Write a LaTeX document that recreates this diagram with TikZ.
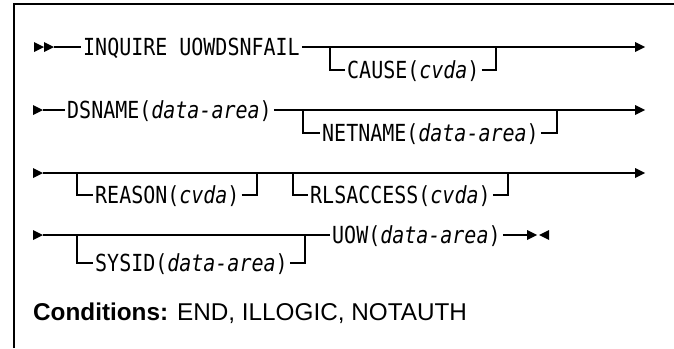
\documentclass[tikz,border=0pt]{standalone}
\usepackage{fontspec}
\setmainfont{Liberation Sans}
\newfontfamily\synfont[FakeStretch=0.85]{DejaVu Sans Mono}

\tikzset{
  syn/.style={anchor=west, inner xsep=2pt, inner ysep=0pt,
    text height=17pt, text depth=0pt,
    font=\synfont\fontsize{23.5pt}{26pt}\selectfont},
  rail/.style={line width=1.2pt},
  pics/rtri/.style={code={\fill (0,-5) -- (10,0) -- (0,5) -- cycle;}},
  pics/ltri/.style={code={\fill (0,-5) -- (-10,0) -- (0,5) -- cycle;}},
}

\begin{document}
\begin{tikzpicture}[x=1pt,y=-1pt]
    \useasboundingbox (0,0) rectangle (674,348);

    % frame
    \draw[line width=1.5pt] (14,348) -- (14,4) -- (674,4);

    % row 1
    \pic at (34,47) {rtri};
    \pic at (44,47) {rtri};
    \coordinate (s1) at (54,47);
    \coordinate (e1) at (635,47);
    \node[syn] (inq) at (81,47) {INQUIRE UOWDSNFAIL};
    \draw[rail] (s1) -- (inq.west);
    \draw[rail] (inq.east) -- (e1);
    \pic at (e1) {rtri};
    \coordinate (c1) at (330,47);
    \coordinate (c2) at (496,47);
    \node[syn] (cause) at (345,70) {CAUSE(\textit{cvda})};
    \draw[rail] (c1) |- (cause.west);
    \draw[rail] (cause.east) -| (c2);

    % row 2
    \pic at (33,110) {rtri};
    \coordinate (s2) at (43,110);
    \coordinate (e2) at (635,110);
    \node[syn] (dsn) at (65,110) {DSNAME(\textit{data-area})};
    \draw[rail] (s2) -- (dsn.west);
    \draw[rail] (dsn.east) -- (e2);
    \pic at (e2) {rtri};
    \coordinate (n1) at (303,110);
    \coordinate (n2) at (557,110);
    \node[syn] (net) at (320,133) {NETNAME(\textit{data-area})};
    \draw[rail] (n1) |- (net.west);
    \draw[rail] (net.east) -| (n2);

    % row 3
    \pic at (33,173) {rtri};
    \coordinate (s3) at (43,173);
    \coordinate (e3) at (635,173);
    \draw[rail] (s3) -- (e3);
    \pic at (e3) {rtri};
    \coordinate (r1) at (77,173);
    \coordinate (r2) at (257,173);
    \node[syn] (reason) at (93,195) {REASON(\textit{cvda})};
    \draw[rail] (r1) |- (reason.west);
    \draw[rail] (reason.east) -| (r2);
    \coordinate (a1) at (293,173);
    \coordinate (a2) at (508,173);
    \node[syn] (rls) at (308,195) {RLSACCESS(\textit{cvda})};
    \draw[rail] (a1) |- (rls.west);
    \draw[rail] (rls.east) -| (a2);

    % row 4
    \pic at (33,235) {rtri};
    \coordinate (s4) at (43,235);
    \node[syn] (uow) at (330,235) {UOW(\textit{data-area})};
    \draw[rail] (s4) -- (uow.west);
    \coordinate (e4) at (527,235);
    \draw[rail] (uow.east) -- (e4);
    \pic at (e4) {rtri};
    \pic at (549,235) {ltri};
    \coordinate (y1) at (77,235);
    \coordinate (y2) at (305,235);
    \node[syn] (sysid) at (93,263) {SYSID(\textit{data-area})};
    \draw[rail] (y1) |- (sysid.west);
    \draw[rail] (sysid.east) -| (y2);

    % conditions
    \node[anchor=base west, inner sep=0pt, font=\fontsize{24.3pt}{28pt}\selectfont]
      (cond) at (33,320) {\textbf{Conditions:} END, ILLOGIC, NOTAUTH};
\end{tikzpicture}
\end{document}
